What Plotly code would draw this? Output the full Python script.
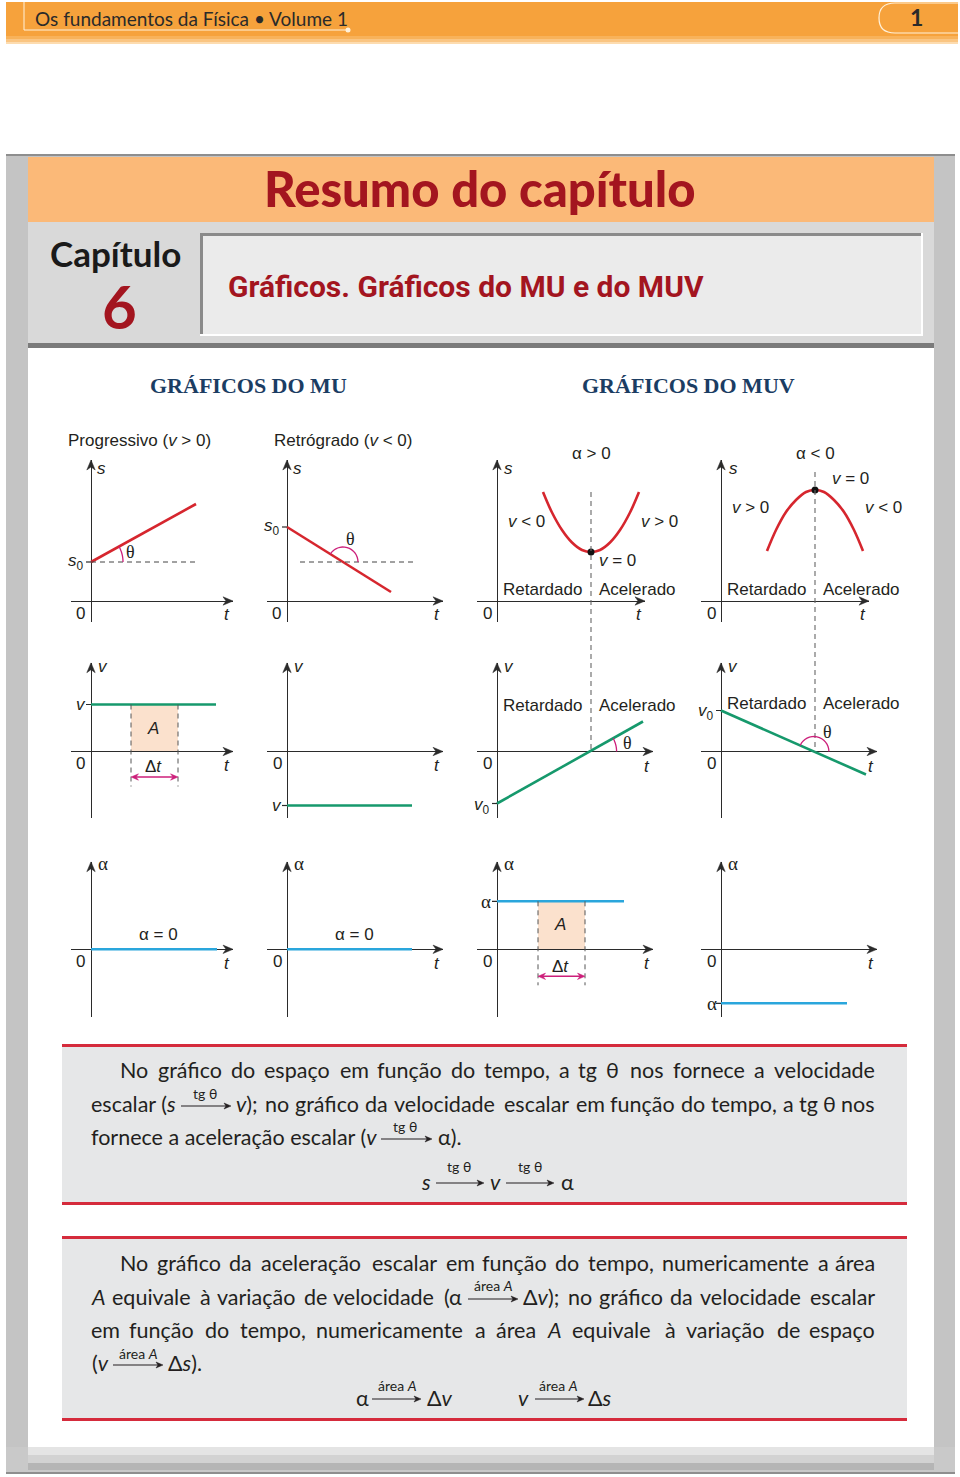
import math
import re
import plotly.graph_objects as go

W, H = 960, 1477
UNIT = 10.0

# ---------------- data (1 unit = 10 px, origin at each mini-chart's 0) ----------------
# Row 1 - position vs time (s x t)
prog_t = [0, 10.5]
prog_s = [3.9, 9.7]
retro_t = [0, 10.4]
retro_s = [7.4, 0.9]
s_ref_level = 3.9
retro_ref_t = [1.3, 12.8]
parab_t = [4.6, 5.5, 6.5, 7.5, 8.5, 9.4, 10.3, 11.3, 12.3, 13.3, 14.2]
parab_up_s = [10.9, 8.85, 7.1, 5.85, 5.1, 4.9, 5.1, 5.85, 7.1, 8.85, 10.9]
parab_dn_s = [5.0, 7.1, 8.9, 10.1, 10.9, 11.1, 10.9, 10.1, 8.9, 7.1, 5.0]
vertex_t = 9.4
vertex_up_s = 4.9
vertex_dn_s = 11.1
dash_top_dn = 12.9

# Row 2 - velocity vs time
vmu_t = [0, 12.5]
vmu_prog = [4.7, 4.7]
vmu_retro = [-5.4, -5.4]
vmuv_up_t = [0, 14.6]
vmuv_up = [-5.2, 3.0]
vmuv_dn_t = [0, 14.5]
vmuv_dn = [4.1, -2.3]
area_v_t = [4.0, 8.7]

# Row 3 - acceleration vs time
amu_t = [0, 12.6]
amu = [0, 0]
amu2_t = [0, 12.5]
amuv_t = [0, 12.7]
amuv_pos = [4.8, 4.8]
amuv_neg_t = [0, 12.6]
amuv_neg = [-5.4, -5.4]
area_a_t = [4.1, 8.8]

# ---------------- geometry of mini charts (pixels) ----------------
COL_X0 = [91, 287, 497, 721]
ROW_Y0 = [601, 751.5, 949.3]
ROW_TOP = [460, 662.7, 861.7]
ROW_BOT = [622, 818, 1016.7]
TIPS = [[233, 443, 645, 869], [233, 443, 653, 877], [233, 443, 653, 877]]

AX = '#2b2b2b'
RED = '#d6262e'
GREEN = '#16996c'
BLUE = '#2aa6dc'
MAG = '#cc1f7a'
PEACH = '#fbe1cd'
TXT = '#231f20'
SANS = 'Liberation Sans, Arial, sans-serif'
SERIF = 'Liberation Serif, DejaVu Serif, serif'
BODY = 'Lato, Roboto, sans-serif'
DARKRED = '#a3151f'

fig = go.Figure()
ann = []
shapes = []


def PX(x):
    return x / W


def PY(y):
    return 1 - y / H


def names(k):
    if k == 1:
        return 'x', 'y', 'xaxis', 'yaxis'
    return f'x{k}', f'y{k}', f'xaxis{k}', f'yaxis{k}'


def ptxt(px, py, s, size=17, color=TXT, family=SANS, xanchor='center', yanchor='middle'):
    ann.append(dict(x=PX(px), y=PY(py), xref='paper', yref='paper', text=s, showarrow=False,
                    xanchor=xanchor, yanchor=yanchor, font=dict(size=size, color=color, family=family)))


def prect(x0, y0, x1, y1, color, layer='below'):
    shapes.append(dict(type='rect', xref='paper', yref='paper', x0=PX(x0), x1=PX(x1), y0=PY(y0), y1=PY(y1),
                       fillcolor=color, line=dict(width=0), layer=layer))


def pline(x0, y0, x1, y1, color, width=1):
    shapes.append(dict(type='line', xref='paper', yref='paper', x0=PX(x0), x1=PX(x1), y0=PY(y0), y1=PY(y1),
                       line=dict(color=color, width=width)))


def parrow(x0, x1, y, color=TXT, width=1.1):
    pline(x0, y, x1 - 4, y, color, width)
    path = (f'M {PX(x1)},{PY(y)} L {PX(x1 - 7)},{PY(y - 3)} L {PX(x1 - 5)},{PY(y)} '
            f'L {PX(x1 - 7)},{PY(y + 3)} Z')
    shapes.append(dict(type='path', xref='paper', yref='paper', path=path, fillcolor=color,
                       line=dict(color=color, width=0.5)))


# ---------------- page frame ----------------
prect(6, 2, 958, 36, '#f6a23c')
prect(6, 36, 958, 39, '#f8b25a')
prect(6, 39, 958, 42, '#fac582')
prect(6, 42, 958, 44, '#fddcb0')
pline(24, 2, 24, 30, '#fff1da', 1)
pline(24, 30, 348, 30, '#fff1da', 1)
shapes.append(dict(type='circle', xref='paper', yref='paper', x0=PX(345.5), x1=PX(350.5), y0=PY(32.5), y1=PY(27.5),
                   fillcolor='#fff1da', line=dict(width=0)))
shapes.append(dict(type='path', xref='paper', yref='paper',
                   path=f'M {PX(958)},{PY(3)} L {PX(895)},{PY(3)} Q {PX(879)},{PY(3)} {PX(879)},{PY(18)} '
                        f'Q {PX(879)},{PY(33)} {PX(895)},{PY(33)} L {PX(958)},{PY(33)}',
                   line=dict(color='#fff1da', width=1.2)))
ptxt(33, 19, 'Os fundamentos da Física • Volume 1', size=19, color='#2a2a2a', family='Lato, sans-serif', xanchor='left')
ptxt(916, 17, '<b>1</b>', size=23, color='#2a2a2a', family='Lato, sans-serif')

prect(6, 154, 955, 1474, '#c4c4c4')
pline(6, 155, 955, 155, '#8e8e8e', 2)
prect(28, 157, 934, 222, '#fbb978')
prect(28, 222, 934, 343, '#d9d9d9')
prect(200, 233, 923, 336, '#ebebeb')
pline(200, 234.5, 923, 234.5, '#8a8a8a', 3)
pline(201.5, 233, 201.5, 336, '#8a8a8a', 3)
pline(200, 335, 923, 335, '#ffffff', 2)
pline(922, 233, 922, 336, '#ffffff', 2)
prect(28, 343, 934, 348, '#7b7b7b')
prect(28, 348, 934, 1447, '#ffffff')
prect(6, 1447, 955, 1474, '#c9c9c9')
prect(28, 1447, 934, 1455, '#e4e4e4')
prect(28, 1455, 934, 1463, '#d2d2d2')
prect(28, 1463, 934, 1470, '#b5b5b5')
pline(6, 1473, 955, 1473, '#8e8e8e', 2)

ptxt(480, 188, '<b>Resumo do capítulo</b>', size=49, color=DARKRED, family='Lato Black, Lato, sans-serif')
ptxt(115, 253, '<b>Capítulo</b>', size=35, color='#1a1a1a', family='Lato, sans-serif')
ptxt(119, 306, '<b>6</b>', size=60, color=DARKRED, family='Lato, sans-serif')
ptxt(226, 286, '<b>Gráficos. Gráficos do MU e do MUV</b>', size=30, color=DARKRED,
     family='Roboto, sans-serif', xanchor='left')

ptxt(248, 386, '<b>GRÁFICOS DO MU</b>', size=22, color='#1b3d63', family=SERIF)
ptxt(688, 386, '<b>GRÁFICOS DO MUV</b>', size=22, color='#1b3d63', family=SERIF)


# ---------------- mini charts ----------------
def head_path(tx, ty, dx, dy, length, half, notch):
    bx, by = tx - dx * length, ty - dy * length
    nx, ny = tx - dx * notch, ty - dy * notch
    px_, py_ = -dy * half, dx * half
    return (f'M {tx:.3f},{ty:.3f} L {bx + px_:.3f},{by + py_:.3f} L {nx:.3f},{ny:.3f} '
            f'L {bx - px_:.3f},{by - py_:.3f} Z')


def axis_setup(k, r, c):
    xn, yn, xk, yk = names(k)
    ox, oy = COL_X0[c], ROW_Y0[r]
    tip = TIPS[r][c]
    left = ox - 20
    xr = [(left - ox) / UNIT, (tip - ox) / UNIT]
    yr = [(oy - ROW_BOT[r]) / UNIT, (oy - ROW_TOP[r]) / UNIT]
    common = dict(showgrid=False, showticklabels=False, ticks='', zeroline=True, zerolinecolor=AX,
                  zerolinewidth=1.3, showline=False, fixedrange=True)
    fig.update_layout({xk: dict(domain=[left / W, tip / W], range=xr, anchor=yn, **common),
                       yk: dict(domain=[1 - ROW_BOT[r] / H, 1 - ROW_TOP[r] / H], range=yr, anchor=xn, **common)})
    for path in (head_path(xr[1], 0, 1, 0, 1.0, 0.42, 0.7), head_path(0, yr[1], 0, 1, 1.0, 0.42, 0.7)):
        shapes.append(dict(type='path', xref=xn, yref=yn, path=path, fillcolor=AX,
                           line=dict(color=AX, width=0.5)))
    return dict(xn=xn, yn=yn, r=r, c=c)


def to_paper_y(r, val):
    return PY(ROW_Y0[r] - val * UNIT)


def ctxt(a, x, y, s, size=17, xanchor='center', family=SANS, color=TXT):
    px = COL_X0[a['c']] + x * UNIT
    py = ROW_Y0[a['r']] - y * UNIT
    ptxt(px, py, s, size=size, color=color, family=family, xanchor=xanchor)


def cline(a, xs, ys, color, width=2.6, shape='linear'):
    fig.add_trace(go.Scatter(x=xs, y=ys, xaxis=a['xn'], yaxis=a['yn'], mode='lines', line_shape=shape,
                             line=dict(color=color, width=width), hoverinfo='skip', showlegend=False))


def cdash(a, x0, y0, x1, y1, color='#444444', width=1):
    shapes.append(dict(type='line', xref=a['xn'], yref=a['yn'], x0=x0, x1=x1, y0=y0, y1=y1,
                       line=dict(color=color, width=width, dash='5px,4px')))


def tick(a, y):
    shapes.append(dict(type='line', xref=a['xn'], yref=a['yn'], x0=-0.5, x1=0, y0=y, y1=y,
                       line=dict(color=AX, width=1.2)))


def arc(a, cx, cy, rad, a0, a1, color=MAG, n=16):
    pts = []
    for i in range(n + 1):
        ang = a0 + (a1 - a0) * i / n
        pts.append(f'{cx + rad * math.cos(ang):.3f},{cy + rad * math.sin(ang):.3f}')
    shapes.append(dict(type='path', xref=a['xn'], yref=a['yn'], path='M ' + ' L '.join(pts),
                       line=dict(color=color, width=1.3)))


def darrow(a, x0, x1, y):
    shapes.append(dict(type='line', xref=a['xn'], yref=a['yn'], x0=x0 + 0.4, x1=x1 - 0.4, y0=y, y1=y,
                       line=dict(color=MAG, width=1.4)))
    for path in (head_path(x1, y, 1, 0, 0.75, 0.32, 0.5), head_path(x0, y, -1, 0, 0.75, 0.32, 0.5)):
        shapes.append(dict(type='path', xref=a['xn'], yref=a['yn'], path=path, fillcolor=MAG,
                           line=dict(color=MAG, width=0.5)))


def area(a, t0, t1, top):
    shapes.append(dict(type='rect', xref=a['xn'], yref=a['yn'], x0=t0, x1=t1, y0=0, y1=top,
                       fillcolor=PEACH, line=dict(width=0), layer='below'))


V = '<i>v</i>'
S = '<i>s</i>'
T = '<i>t</i>'
AL = 'α'
TH = 'θ'
GT = ' > '
LT = ' < '

axes = {}
k = 1
for r in range(3):
    for c in range(4):
        axes[(r, c)] = axis_setup(k, r, c)
        k += 1

# ---- Row 1 ----
a = axes[(0, 0)]
cdash(a, 0, s_ref_level, prog_t[1] + 0.1, s_ref_level)
cline(a, prog_t, prog_s, RED)
slope = (prog_s[1] - prog_s[0]) / (prog_t[1] - prog_t[0])
arc(a, 0, prog_s[0], 3.2, 0, math.atan(slope))
tick(a, prog_s[0])
ctxt(a, 1.0, 13.3, S)
ctxt(a, -0.5, prog_s[0], S + '<sub>0</sub>', xanchor='right')
ctxt(a, 3.9, 4.9, TH, family=SERIF, size=18)
ctxt(a, -1.05, -1.2, '0')
ctxt(a, 13.6, -1.3, T)
ptxt(66, 441, 'Progressivo (' + V + GT + '0)', size=17, xanchor='left')

a = axes[(0, 1)]
cdash(a, retro_ref_t[0], s_ref_level, retro_ref_t[1], s_ref_level)
cline(a, retro_t, retro_s, RED)
slope = (retro_s[1] - retro_s[0]) / (retro_t[1] - retro_t[0])
t_int = (s_ref_level - retro_s[0]) / slope
arc(a, t_int, s_ref_level, 1.5, 0, math.pi + math.atan(slope))
tick(a, retro_s[0])
ctxt(a, 1.0, 13.3, S)
ctxt(a, -0.5, retro_s[0], S + '<sub>0</sub>', xanchor='right')
ctxt(a, 6.3, 6.2, TH, family=SERIF, size=18)
ctxt(a, -1.05, -1.2, '0')
ctxt(a, 15.0, -1.3, T)
ptxt(272, 441, 'Retrógrado (' + V + LT + '0)', size=17, xanchor='left')

a = axes[(0, 2)]
shapes.append(dict(type='line', xref=a['xn'], yref='paper', x0=vertex_t, x1=vertex_t,
                   y0=to_paper_y(0, parab_up_s[0]), y1=to_paper_y(1, 0),
                   line=dict(color='#666666', width=1.1, dash='5px,4px')))
cline(a, parab_t, parab_up_s, RED, shape='spline')
fig.add_trace(go.Scatter(x=[vertex_t], y=[vertex_up_s], xaxis=a['xn'], yaxis=a['yn'], mode='markers',
                         marker=dict(color='#111111', size=7), hoverinfo='skip', showlegend=False, cliponaxis=False))
ctxt(a, 9.4, 14.7, AL + GT + '0')
ctxt(a, 1.2, 13.3, S)
ctxt(a, 2.9, 7.9, V + LT + '0')
ctxt(a, 16.2, 7.9, V + GT + '0')
ctxt(a, 12.0, 4.0, V + ' = 0')
ctxt(a, 8.7, 1.2, 'Retardado', xanchor='right')
ctxt(a, 10.0, 1.2, 'Acelerado', xanchor='left')
ctxt(a, -1.0, -1.2, '0')
ctxt(a, 14.2, -1.3, T)

a = axes[(0, 3)]
shapes.append(dict(type='line', xref=a['xn'], yref='paper', x0=vertex_t, x1=vertex_t,
                   y0=to_paper_y(0, dash_top_dn), y1=to_paper_y(1, 0),
                   line=dict(color='#666666', width=1.1, dash='5px,4px')))
cline(a, parab_t, parab_dn_s, RED, shape='spline')
fig.add_trace(go.Scatter(x=[vertex_t], y=[vertex_dn_s], xaxis=a['xn'], yaxis=a['yn'], mode='markers',
                         marker=dict(color='#111111', size=7), hoverinfo='skip', showlegend=False, cliponaxis=False))
ctxt(a, 9.4, 14.7, AL + LT + '0')
ctxt(a, 1.2, 13.3, S)
ctxt(a, 12.9, 12.3, V + ' = 0')
ctxt(a, 2.9, 9.4, V + GT + '0')
ctxt(a, 16.2, 9.4, V + LT + '0')
ctxt(a, 8.7, 1.2, 'Retardado', xanchor='right')
ctxt(a, 10.0, 1.2, 'Acelerado', xanchor='left')
ctxt(a, -1.0, -1.2, '0')
ctxt(a, 14.2, -1.3, T)

# ---- Row 2 ----
a = axes[(1, 0)]
area(a, area_v_t[0], area_v_t[1], vmu_prog[0])
for tv in area_v_t:
    cdash(a, tv, vmu_prog[0], tv, -3.5, color='#555555')
cline(a, vmu_t, vmu_prog, GREEN)
darrow(a, area_v_t[0], area_v_t[1], -2.55)
tick(a, vmu_prog[0])
ctxt(a, 1.2, 8.55, V)
ctxt(a, -1.05, vmu_prog[0], V)
ctxt(a, 6.2, 2.35, '<i>A</i>')
ctxt(a, 6.2, -1.5, 'Δ' + T)
ctxt(a, -1.05, -1.15, '0')
ctxt(a, 13.6, -1.35, T)

a = axes[(1, 1)]
cline(a, vmu_t, vmu_retro, GREEN)
tick(a, vmu_retro[0])
ctxt(a, 1.2, 8.55, V)
ctxt(a, -1.0, vmu_retro[0], V)
ctxt(a, -1.0, -1.15, '0')
ctxt(a, 15.0, -1.35, T)

a = axes[(1, 2)]
cline(a, vmuv_up_t, vmuv_up, GREEN)
slope = (vmuv_up[1] - vmuv_up[0]) / (vmuv_up_t[1] - vmuv_up_t[0])
tc = -vmuv_up[0] / slope
arc(a, tc, 0, 2.7, 0, math.atan(slope))
tick(a, vmuv_up[0])
ctxt(a, 1.2, 8.55, V)
ctxt(a, 8.7, 4.55, 'Retardado', xanchor='right')
ctxt(a, 10.0, 4.55, 'Acelerado', xanchor='left')
ctxt(a, 13.0, 0.9, TH, family=SERIF, size=18)
ctxt(a, -1.0, -1.15, '0')
ctxt(a, 15.0, -1.45, T)
ctxt(a, -0.5, vmuv_up[0] - 0.2, V + '<sub>0</sub>', xanchor='right')

a = axes[(1, 3)]
cline(a, vmuv_dn_t, vmuv_dn, GREEN)
slope = (vmuv_dn[1] - vmuv_dn[0]) / (vmuv_dn_t[1] - vmuv_dn_t[0])
tc = -vmuv_dn[0] / slope
arc(a, tc, 0, 1.5, 0, math.pi + math.atan(slope))
tick(a, vmuv_dn[0])
ctxt(a, 1.2, 8.55, V)
ctxt(a, -0.5, vmuv_dn[0] - 0.1, V + '<sub>0</sub>', xanchor='right')
ctxt(a, 8.7, 4.85, 'Retardado', xanchor='right')
ctxt(a, 10.0, 4.85, 'Acelerado', xanchor='left')
ctxt(a, 10.6, 2.0, TH, family=SERIF, size=18)
ctxt(a, -1.0, -1.15, '0')
ctxt(a, 15.0, -1.45, T)

# ---- Row 3 ----
a = axes[(2, 0)]
cline(a, amu_t, amu, BLUE)
ctxt(a, 1.2, 8.55, AL, family=SERIF, size=19)
ctxt(a, 6.7, 1.45, AL + ' = 0')
ctxt(a, -1.05, -1.2, '0')
ctxt(a, 13.6, -1.4, T)

a = axes[(2, 1)]
cline(a, amu2_t, amu, BLUE)
ctxt(a, 1.2, 8.55, AL, family=SERIF, size=19)
ctxt(a, 6.7, 1.45, AL + ' = 0')
ctxt(a, -1.0, -1.2, '0')
ctxt(a, 15.0, -1.4, T)

a = axes[(2, 2)]
area(a, area_a_t[0], area_a_t[1], amuv_pos[0])
for tv in area_a_t:
    cdash(a, tv, amuv_pos[0], tv, -3.6, color='#555555')
cline(a, amuv_t, amuv_pos, BLUE)
darrow(a, area_a_t[0], area_a_t[1], -2.7)
tick(a, amuv_pos[0])
ctxt(a, 1.2, 8.55, AL, family=SERIF, size=19)
ctxt(a, -1.1, amuv_pos[0], AL, family=SERIF, size=19)
ctxt(a, 6.3, 2.45, '<i>A</i>')
ctxt(a, 6.3, -1.75, 'Δ' + T)
ctxt(a, -1.0, -1.2, '0')
ctxt(a, 15.0, -1.4, T)

a = axes[(2, 3)]
cline(a, amuv_neg_t, amuv_neg, BLUE)
tick(a, amuv_neg[0])
ctxt(a, 1.2, 8.55, AL, family=SERIF, size=19)
ctxt(a, -0.9, amuv_neg[0], AL, family=SERIF, size=19)
ctxt(a, -1.0, -1.2, '0')
ctxt(a, 15.0, -1.4, T)

# ---------------- text boxes ----------------
BOXRED = '#d52b3c'
prect(62, 1046, 907, 1203, '#e6e7e8')
prect(62, 1044, 907, 1047, BOXRED, layer='above')
prect(62, 1202, 907, 1205, BOXRED, layer='above')
prect(62, 1238, 907, 1419, '#e6e7e8')
prect(62, 1236, 907, 1239, BOXRED, layer='above')
prect(62, 1418, 907, 1421, BOXRED, layer='above')

BS = 21.5
SM = 14

# rough advance widths (em) of the body font, used only to spread justified words
CW = dict(a=.49, b=.55, c=.43, d=.55, e=.50, f=.29, g=.48, h=.54, i=.24, j=.24, k=.50, l=.24, m=.73,
          n=.54, o=.54, p=.55, q=.55, r=.33, s=.41, t=.34, u=.54, v=.50, w=.76, x=.49, y=.50, z=.45)
CW.update({'(': .30, ')': .30, ',': .21, '.': .21, ';': .22, 'θ': .72, 'α': .62, 'Δ': .66,
           'A': .66, 'N': .74})
ACC = {'á': 'a', 'à': 'a', 'ã': 'a', 'â': 'a', 'é': 'e', 'ê': 'e', 'í': 'i', 'ç': 'c', 'ó': 'o', 'õ': 'o', 'ú': 'u'}


def est_w(word):
    plain = re.sub(r'<[^>]+>', '', word)
    return sum(CW.get(ACC.get(ch, ch), .6) for ch in plain)


REF_LINE = 'No gráfico do espaço em função do tempo, a tg θ nos fornece a velocidade'
# measured: this line rendered 718 px wide at 22 px (13 spaces of 0.193 em)
CAL = (718.0 - 13 * 0.193 * 22) / est_w(REF_LINE.replace(' ', '')) * BS / 22


def btxt(px, py, s, xanchor='left', size=BS):
    ptxt(px, py, s, size=size, color=TXT, family=BODY, xanchor=xanchor)


def justify(x0, x1, py, text):
    words = text.split(' ')
    widths = [est_w(w) * CAL for w in words]
    gap = ((x1 - x0) - sum(widths)) / max(len(words) - 1, 1)
    if gap < 0.12 * BS:
        btxt(x0, py, text)
        return
    x = x0
    for i, (w, wd) in enumerate(zip(words, widths)):
        if i == len(words) - 1:
            btxt(x1, py, w, xanchor='right')
        else:
            btxt(x, py, w, xanchor='left')
        x += wd + gap


justify(118, 877, 1070, 'No gráfico do espaço em função do tempo, a tg θ nos fornece a velocidade')
btxt(89, 1104, 'escalar (' + S)
parrow(181, 231, 1106)
btxt(205, 1093, 'tg θ', xanchor='center', size=SM)
justify(234, 877, 1104, V + '); no gráfico da velocidade escalar em função do tempo, a tg θ nos')
btxt(89, 1137, 'fornece a aceleração escalar (' + V)
parrow(381, 432, 1139)
btxt(405, 1126, 'tg θ', xanchor='center', size=SM)
btxt(436, 1137, 'α).')
btxt(426, 1182, S, xanchor='center')
parrow(436, 484, 1183)
btxt(459, 1166, 'tg θ', xanchor='center', size=SM)
btxt(495, 1182, V, xanchor='center')
parrow(506, 554, 1183)
btxt(530, 1166, 'tg θ', xanchor='center', size=SM)
btxt(567, 1182, 'α', xanchor='center')

justify(118, 877, 1263, 'No gráfico da aceleração escalar em função do tempo, numericamente a área')
justify(89, 464, 1297, '<i>A</i> equivale à variação de velocidade (α')
parrow(468, 518, 1299)
btxt(493, 1285, 'área <i>A</i>', xanchor='center', size=SM)
justify(521, 877, 1297, 'Δ' + V + '); no gráfico da velocidade escalar')
justify(89, 877, 1330, 'em função do tempo, numericamente a área <i>A</i> equivale à variação de espaço')
btxt(111, 1363, '(' + V, xanchor='right')
parrow(113, 163, 1365)
btxt(138, 1353, 'área <i>A</i>', xanchor='center', size=SM)
btxt(166, 1363, 'Δ' + S + ').')
btxt(362, 1398, 'α', xanchor='center')
parrow(372, 421, 1399)
btxt(397, 1385, 'área <i>A</i>', xanchor='center', size=SM)
btxt(440, 1398, 'Δ' + V, xanchor='center')
btxt(523, 1398, V, xanchor='center')
parrow(535, 584, 1399)
btxt(558, 1385, 'área <i>A</i>', xanchor='center', size=SM)
btxt(600, 1398, 'Δ' + S, xanchor='center')

fig.update_layout(width=W, height=H, margin=dict(l=0, r=0, t=0, b=0), paper_bgcolor='#ffffff',
                  plot_bgcolor='rgba(0,0,0,0)', showlegend=False, annotations=ann, shapes=shapes)
fig.write_html('out.html')
